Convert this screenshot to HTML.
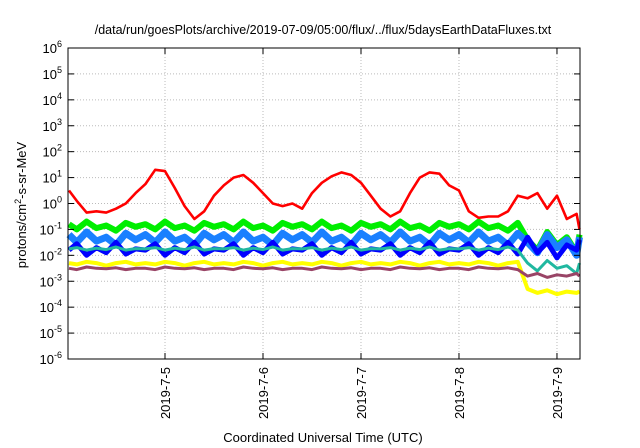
<!DOCTYPE html>
<html><head><meta charset="utf-8">
<style>
body{margin:0;background:#fff;}
svg{display:block;font-family:"Liberation Sans",sans-serif;}
</style></head>
<body>
<svg id="chart" width="640" height="448" viewBox="0 0 640 448">
<text x="323" y="34" font-size="12.5" text-anchor="middle" fill="#000">/data/run/goesPlots/archive/2019-07-09/05:00/flux/../flux/5daysEarthDataFluxes.txt</text>
<text transform="translate(26,205) rotate(-90)" font-size="13" text-anchor="middle" fill="#000">protons/cm<tspan dy="-5" font-size="9">2</tspan><tspan dy="5">-s-sr-MeV</tspan></text>
<text x="323" y="442" font-size="13" text-anchor="middle" fill="#000">Coordinated Universal Time (UTC)</text>
<g id="grid"></g>
<g id="series"></g>
<g id="axes"></g>
</svg>
<script>
const times = [0.02,0.1,0.2,0.3,0.4,0.5,0.6,0.7,0.8,0.9,1.0,1.1,1.2,1.3,1.4,1.5,1.6,1.7,1.8,1.9,2.0,2.1,2.2,2.3,2.4,2.5,2.6,2.7,2.8,2.9,3.0,3.1,3.2,3.3,3.4,3.5,3.6,3.7,3.8,3.9,4.0,4.1,4.2,4.3,4.4,4.5,4.6,4.7,4.8,4.9,5.0,5.1,5.2,5.23];
const redLog = [0.5,0.1,-0.35,-0.3,-0.35,-0.2,0.0,0.4,0.75,1.3,1.25,0.6,-0.1,-0.6,-0.3,0.3,0.7,1.0,1.1,0.8,0.4,0.0,-0.1,0.0,-0.2,0.4,0.8,1.05,1.2,1.1,0.8,0.3,-0.2,-0.5,-0.3,0.4,1.0,1.2,1.15,0.7,0.5,-0.3,-0.55,-0.5,-0.5,-0.3,0.3,0.2,0.4,-0.2,0.3,-0.6,-0.4,-1.0];
const greenLog = [-0.8,-1.0,-0.7,-0.95,-0.85,-1.05,-0.75,-0.9,-0.8,-1.0,-0.7,-0.95,-0.85,-1.05,-0.75,-0.9,-0.8,-1.0,-0.7,-0.95,-0.85,-1.05,-0.75,-0.9,-0.8,-1.0,-0.7,-0.95,-0.85,-1.05,-0.75,-0.9,-0.8,-1.0,-0.7,-0.95,-0.85,-1.05,-0.75,-0.9,-0.8,-1.0,-0.7,-0.95,-0.85,-1.05,-0.75,-1.4,-1.8,-1.1,-1.6,-1.3,-1.9,-1.2];
const lightBlueLog = [-1.2,-1.5,-1.1,-1.45,-1.3,-1.6,-1.15,-1.4,-1.2,-1.5,-1.1,-1.45,-1.3,-1.6,-1.15,-1.4,-1.2,-1.5,-1.1,-1.45,-1.3,-1.6,-1.15,-1.4,-1.2,-1.5,-1.1,-1.45,-1.3,-1.6,-1.15,-1.4,-1.2,-1.5,-1.1,-1.45,-1.3,-1.6,-1.15,-1.4,-1.2,-1.5,-1.1,-1.45,-1.3,-1.6,-1.15,-1.5,-1.9,-1.2,-1.7,-1.4,-2.0,-1.3];
const blueLog = [-1.8,-1.55,-2.0,-1.7,-1.9,-1.5,-1.95,-1.75,-1.8,-1.55,-2.0,-1.7,-1.9,-1.5,-1.95,-1.75,-1.8,-1.55,-2.0,-1.7,-1.9,-1.5,-1.95,-1.75,-1.8,-1.55,-2.0,-1.7,-1.9,-1.5,-1.95,-1.75,-1.8,-1.55,-2.0,-1.7,-1.9,-1.5,-1.95,-1.75,-1.8,-1.55,-2.0,-1.7,-1.9,-1.5,-1.95,-1.3,-1.9,-1.5,-2.1,-1.6,-1.8,-1.4];
const tealLog = [-1.75,-1.7,-1.8,-1.72,-1.78,-1.68,-1.8,-1.74,-1.75,-1.7,-1.8,-1.72,-1.78,-1.68,-1.8,-1.74,-1.75,-1.7,-1.8,-1.72,-1.78,-1.68,-1.8,-1.74,-1.75,-1.7,-1.8,-1.72,-1.78,-1.68,-1.8,-1.74,-1.75,-1.7,-1.8,-1.72,-1.78,-1.68,-1.8,-1.74,-1.75,-1.7,-1.8,-1.72,-1.78,-1.68,-1.8,-2.3,-2.6,-2.2,-2.5,-2.4,-2.7,-2.3];
const yellowLog = [-2.3,-2.35,-2.25,-2.3,-2.4,-2.3,-2.25,-2.35,-2.3,-2.35,-2.25,-2.3,-2.4,-2.3,-2.25,-2.35,-2.3,-2.35,-2.25,-2.3,-2.4,-2.3,-2.25,-2.35,-2.3,-2.35,-2.25,-2.3,-2.4,-2.3,-2.25,-2.35,-2.3,-2.35,-2.25,-2.3,-2.4,-2.3,-2.25,-2.35,-2.3,-2.35,-2.25,-2.3,-2.4,-2.3,-2.25,-3.3,-3.45,-3.35,-3.5,-3.4,-3.45,-3.4];
const purpleLog = [-2.5,-2.55,-2.45,-2.5,-2.52,-2.48,-2.55,-2.5,-2.5,-2.55,-2.45,-2.5,-2.52,-2.48,-2.55,-2.5,-2.5,-2.55,-2.45,-2.5,-2.52,-2.48,-2.55,-2.5,-2.5,-2.55,-2.45,-2.5,-2.52,-2.48,-2.55,-2.5,-2.5,-2.55,-2.45,-2.5,-2.52,-2.48,-2.55,-2.5,-2.5,-2.55,-2.45,-2.5,-2.52,-2.48,-2.55,-2.8,-2.7,-2.85,-2.75,-2.8,-2.7,-2.8];
const yTickExps = [-6,-5,-4,-3,-2,-1,0,1,2,3,4,5,6];
const xTickDays = [1,2,3,4,5];
const xTickLabels = ["2019-7-5","2019-7-6","2019-7-7","2019-7-8","2019-7-9"];

const L=68,R=580,T=48,B=359,TMIN=0.01,TMAX=5.235,YMIN=-6,YMAX=6;
const NS='http://www.w3.org/2000/svg';
function xs(t){return L+(t-TMIN)/(TMAX-TMIN)*(R-L);}
function ys(l){return B-(l-YMIN)/(YMAX-YMIN)*(B-T);}
function mk(tag,attrs,parent){const e=document.createElementNS(NS,tag);for(const k in attrs)e.setAttribute(k,attrs[k]);parent.appendChild(e);return e;}
const grid=document.getElementById('grid'),axes=document.getElementById('axes'),ser=document.getElementById('series');

yTickExps.forEach(function(e){
  const y=ys(e);
  if(e>YMIN&&e<YMAX){
    const g=mk('line',{x1:L,x2:R,y1:y,y2:y,stroke:'#bbb','stroke-width':1,'stroke-dasharray':'1,2'},grid);
    
    
  }
  const t1=mk('line',{x1:L,x2:L+6,y1:y,y2:y,stroke:'#000'},axes);
  
  
  const t2=mk('line',{x1:R-6,x2:R,y1:y,y2:y,stroke:'#000'},axes);
  
  
  const tx=mk('text',{x:L-6,y:y+5,'font-size':13,'text-anchor':'end',fill:'#000'},axes);
  
  
  const a=document.createElementNS(NS,'tspan');a.textContent='10';tx.appendChild(a);
  const b=document.createElementNS(NS,'tspan');b.setAttribute('dy','-6');b.setAttribute('font-size','9');b.textContent=String(e);tx.appendChild(b);
});
xTickDays.forEach(function(d,i){
  const x=xs(d);
  const g=mk('line',{x1:x,x2:x,y1:T,y2:B,stroke:'#bbb','stroke-width':1,'stroke-dasharray':'1,2'},grid);
  
  
  const t1=mk('line',{x1:x,x2:x,y1:B-6,y2:B,stroke:'#000'},axes);
  
  
  const t2=mk('line',{x1:x,x2:x,y1:T,y2:T+6,stroke:'#000'},axes);
  
  
  const tx=mk('text',{transform:'translate('+(x+5)+','+(B+8)+') rotate(-90)','font-size':13,'text-anchor':'end',fill:'#000'},axes);
  
  
  tx.textContent=xTickLabels[i];
});
const frame=mk('rect',{x:L,y:T,width:R-L,height:B-T,fill:'none',stroke:'#000','stroke-width':1},axes);



const seriesDefs=[
 ['series-green',greenLog,'#00ee00',6],
 ['series-light-blue',lightBlueLog,'#1a80ff',7],
 ['series-blue',blueLog,'#0000ff',5],
 ['series-teal',tealLog,'#20b8a0',3],
 ['series-yellow',yellowLog,'#ffff00',4],
 ['series-purple',purpleLog,'#994466',3],
 ['series-red',redLog,'#ff0000',2.6]
];
seriesDefs.forEach(function(s){
  const pts=times.map(function(t,i){return xs(t).toFixed(1)+','+ys(s[1][i]).toFixed(1);}).join(' ');
  const p=mk('polyline',{points:pts,fill:'none',stroke:s[2],'stroke-width':s[3],'stroke-linejoin':'round'},ser);
  
  
});
</script>
</body></html>
